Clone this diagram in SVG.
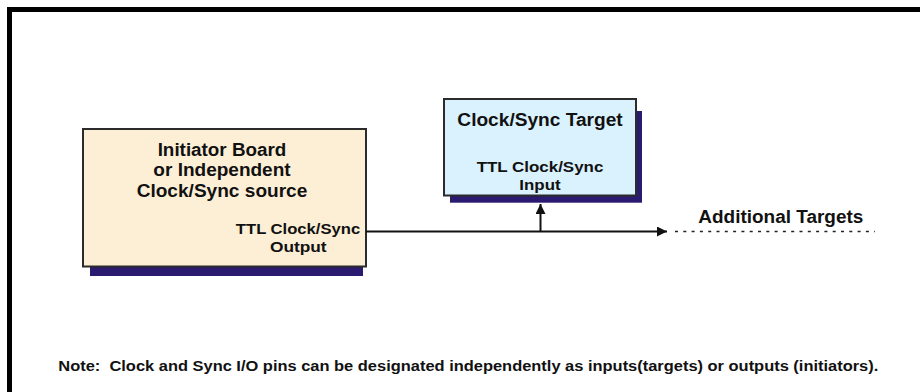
<svg xmlns="http://www.w3.org/2000/svg" width="920" height="392" viewBox="0 0 920 392">
<defs>
<style>
text{font-family:"Liberation Sans",Arial,Helvetica,sans-serif;font-weight:bold;fill:#111;}
.big{font-size:17.5px;}
.mid{font-size:14.5px;}
.note{font-size:14.5px;}
.box{stroke:#2b2b2b;stroke-width:2;}
.shadow{fill:#2a1a70;}
.wire{stroke:#111;stroke-width:2;fill:none;}
</style>
<marker id="arrow" viewBox="0 0 10 10" refX="10" refY="5" markerWidth="10" markerHeight="10" markerUnits="userSpaceOnUse" orient="auto">
<path d="M0,0 L10,5 L0,10 z" fill="#111"/>
</marker>
</defs>
<rect width="920" height="392" fill="#ffffff"/>
<path d="M9.5,392 L9.5,9.5 L920,9.5" fill="none" stroke="#000" stroke-width="5"/>
<g id="initiator">
<rect class="shadow" x="90" y="266" width="273" height="10"/>
<rect class="box" x="83" y="129" width="283" height="137.5" fill="#fdefd6"/>
<text class="big" x="222" y="156" text-anchor="middle" textLength="128.7" lengthAdjust="spacingAndGlyphs">Initiator Board</text>
<text class="big" x="222" y="176" text-anchor="middle" textLength="137.3" lengthAdjust="spacingAndGlyphs">or Independent</text>
<text class="big" x="222" y="196.5" text-anchor="middle" textLength="170.7" lengthAdjust="spacingAndGlyphs">Clock/Sync source</text>
<text class="mid" x="298" y="234.3" text-anchor="middle" textLength="124.3" lengthAdjust="spacingAndGlyphs">TTL Clock/Sync</text>
<text class="mid" x="298.3" y="252.3" text-anchor="middle" textLength="56.7" lengthAdjust="spacingAndGlyphs">Output</text>
</g>
<g id="target">
<rect class="shadow" x="450" y="111" width="192" height="91.7"/>
<rect class="box" x="444" y="99" width="192" height="96.5" fill="#daf2fe"/>
<text class="big" x="540" y="125.7" text-anchor="middle" textLength="165.3" lengthAdjust="spacingAndGlyphs">Clock/Sync Target</text>
<text class="mid" x="540" y="171.7" text-anchor="middle" textLength="126.7" lengthAdjust="spacingAndGlyphs">TTL Clock/Sync</text>
<text class="mid" x="540" y="190" text-anchor="middle" textLength="41.3" lengthAdjust="spacingAndGlyphs">Input</text>
</g>
<g id="additional">
<text class="big" x="780.8" y="222.7" text-anchor="middle" textLength="165" lengthAdjust="spacingAndGlyphs">Additional Targets</text>
</g>
<g id="connectors">
<line class="wire" x1="366" y1="231.5" x2="667" y2="231.5" marker-end="url(#arrow)"/>
<line class="wire" x1="540.5" y1="231.5" x2="540.5" y2="204" marker-end="url(#arrow)"/>
<line x1="675" y1="231.5" x2="875" y2="231.5" stroke="#222" stroke-width="1.5" stroke-dasharray="3 5.3"/>
</g>
<text class="note" x="58.3" y="371" textLength="820" lengthAdjust="spacingAndGlyphs" xml:space="preserve">Note:  Clock and Sync I/O pins can be designated independently as inputs(targets) or outputs (initiators).</text>
</svg>
